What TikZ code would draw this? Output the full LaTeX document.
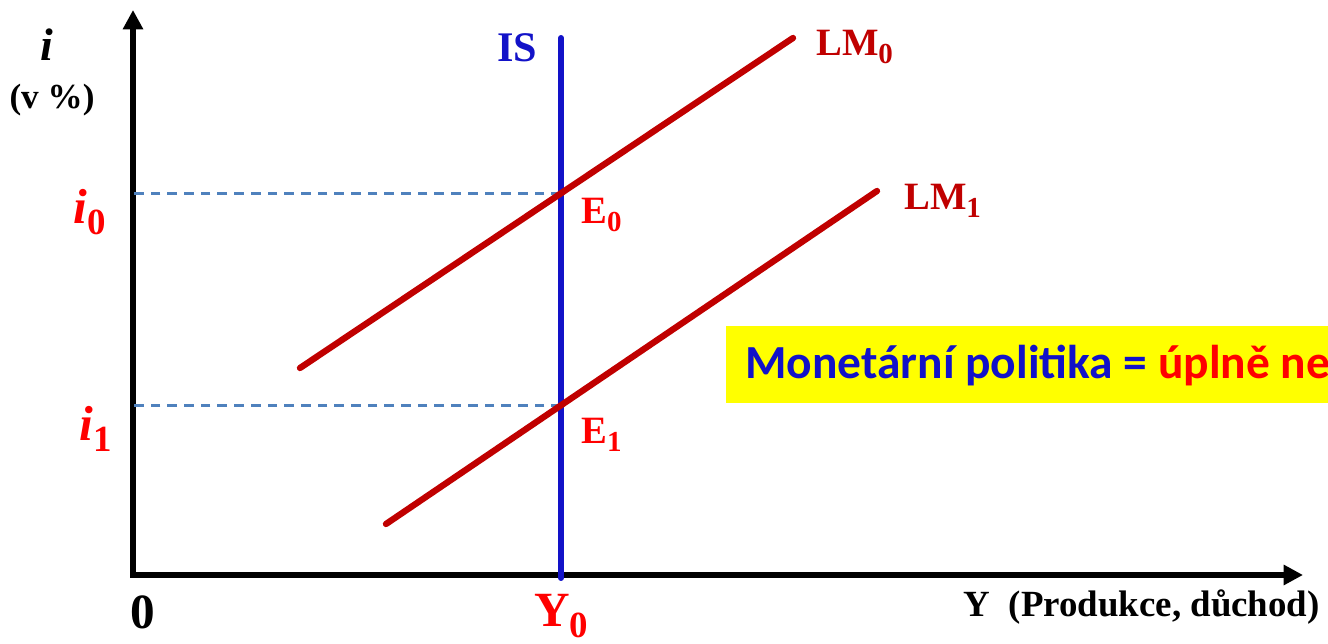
\documentclass[tikz,border=0pt]{standalone}
\usepackage{fontspec}
\setmainfont{Liberation Serif}
\newfontfamily\boxfont{Carlito}
\usetikzlibrary{arrows.meta}
\usepackage{tkz-euclide}
\definecolor{LMClr}{RGB}{192,0,0}
\definecolor{ISClr}{RGB}{18,18,200}
\definecolor{LabelClr}{RGB}{255,0,0}
\definecolor{DashClr}{RGB}{79,129,189}
\definecolor{NoteClr}{RGB}{255,255,0}
\newcommand{\dn}[1]{\raisebox{-0.22em}{\scalebox{0.75}{#1}}}

\begin{document}
\begin{tikzpicture}[
  axisline/.style={line width=3.4pt,line join=miter,
    {Triangle[width=11pt,length=11pt]}-{Triangle[width=11pt,length=11pt]}},
  dashline/.style={line width=1.7pt,color=DashClr,dash pattern=on 5.5pt off 4pt},
  lblbig/.style={font=\bfseries\fontsize{28}{30}\selectfont},
  lblcurve/.style={font=\bfseries\fontsize{22}{24}\selectfont,text=LMClr,anchor=west},
  lblpoint/.style={font=\bfseries\fontsize{22}{24}\selectfont,text=LabelClr,anchor=west}]
\useasboundingbox (0,0) rectangle (26.56,12.88);

\tkzDefPoints{2.66/1.38/O, 2.66/12.68/T, 26.06/1.38/X}
\tkzDefPoints{11.22/12.12/S, 11.22/1.32/R}
\tkzDefPoints{6.00/5.52/A, 15.86/12.12/B}
\tkzDefPoints{7.72/2.40/C, 17.54/9.06/D}

\tkzInterLL(S,R)(A,B)\tkzGetPoint{E0}
\tkzInterLL(S,R)(C,D)\tkzGetPoint{E1}

% axes
\draw[axisline] (T) -- (O) -- (X);

% levels of the rate
\draw[dashline] (E0) -- (E0 -| O);
\draw[dashline] (E1) -- (E1 -| O);

\tkzDrawSegments[line width=3.4pt,color=ISClr](S,R)
\tkzDrawSegments[line width=3.6pt,color=LMClr](A,B C,D)

% note
\fill[NoteClr] (14.52,4.82) rectangle (27,6.36);
\node[anchor=west,inner sep=0pt] (note) at (14.90,5.56)
  {\boxfont\bfseries\fontsize{27}{29}\selectfont
   \textcolor{ISClr}{Monetární politika =} \textcolor{LabelClr}{úplně ne}};

% labels
\node[font=\bfseries\fontsize{26}{28}\selectfont] (iaxis) at (0.94,11.98) {\textit{i}};
\node[font=\bfseries\fontsize{20}{22}\selectfont] (unit) at (1.04,10.88) {(v \%)};
\node[lblbig,text=LabelClr] (i0) at (1.80,8.64) {\textit{i}\dn{0}};
\node[lblbig,text=LabelClr] (i1) at (1.92,4.30) {\textit{i}\dn{1}};
\node[font=\bfseries\fontsize{24}{26}\selectfont,text=ISClr] (IS) at (10.34,11.92) {IS};
\node[lblcurve] (LM0) at (16.20,11.94) {LM\dn{0}};
\node[lblcurve] (LM1) at (17.96,8.86) {LM\dn{1}};
\node[lblpoint] (E0lbl) at (11.50,8.58) {E\dn{0}};
\node[lblpoint] (E1lbl) at (11.50,4.18) {E\dn{1}};
\node[lblbig] (zero) at (2.86,0.64) {0};
\node[lblbig,text=LabelClr] (Y0) at (11.22,0.56) {Y\dn{0}};
\node[font=\bfseries\fontsize{21}{23}\selectfont,anchor=east] (xaxis) at (26.52,0.74)
  {Y\ \ (Produkce, důchod)};

\end{tikzpicture}
\end{document}
